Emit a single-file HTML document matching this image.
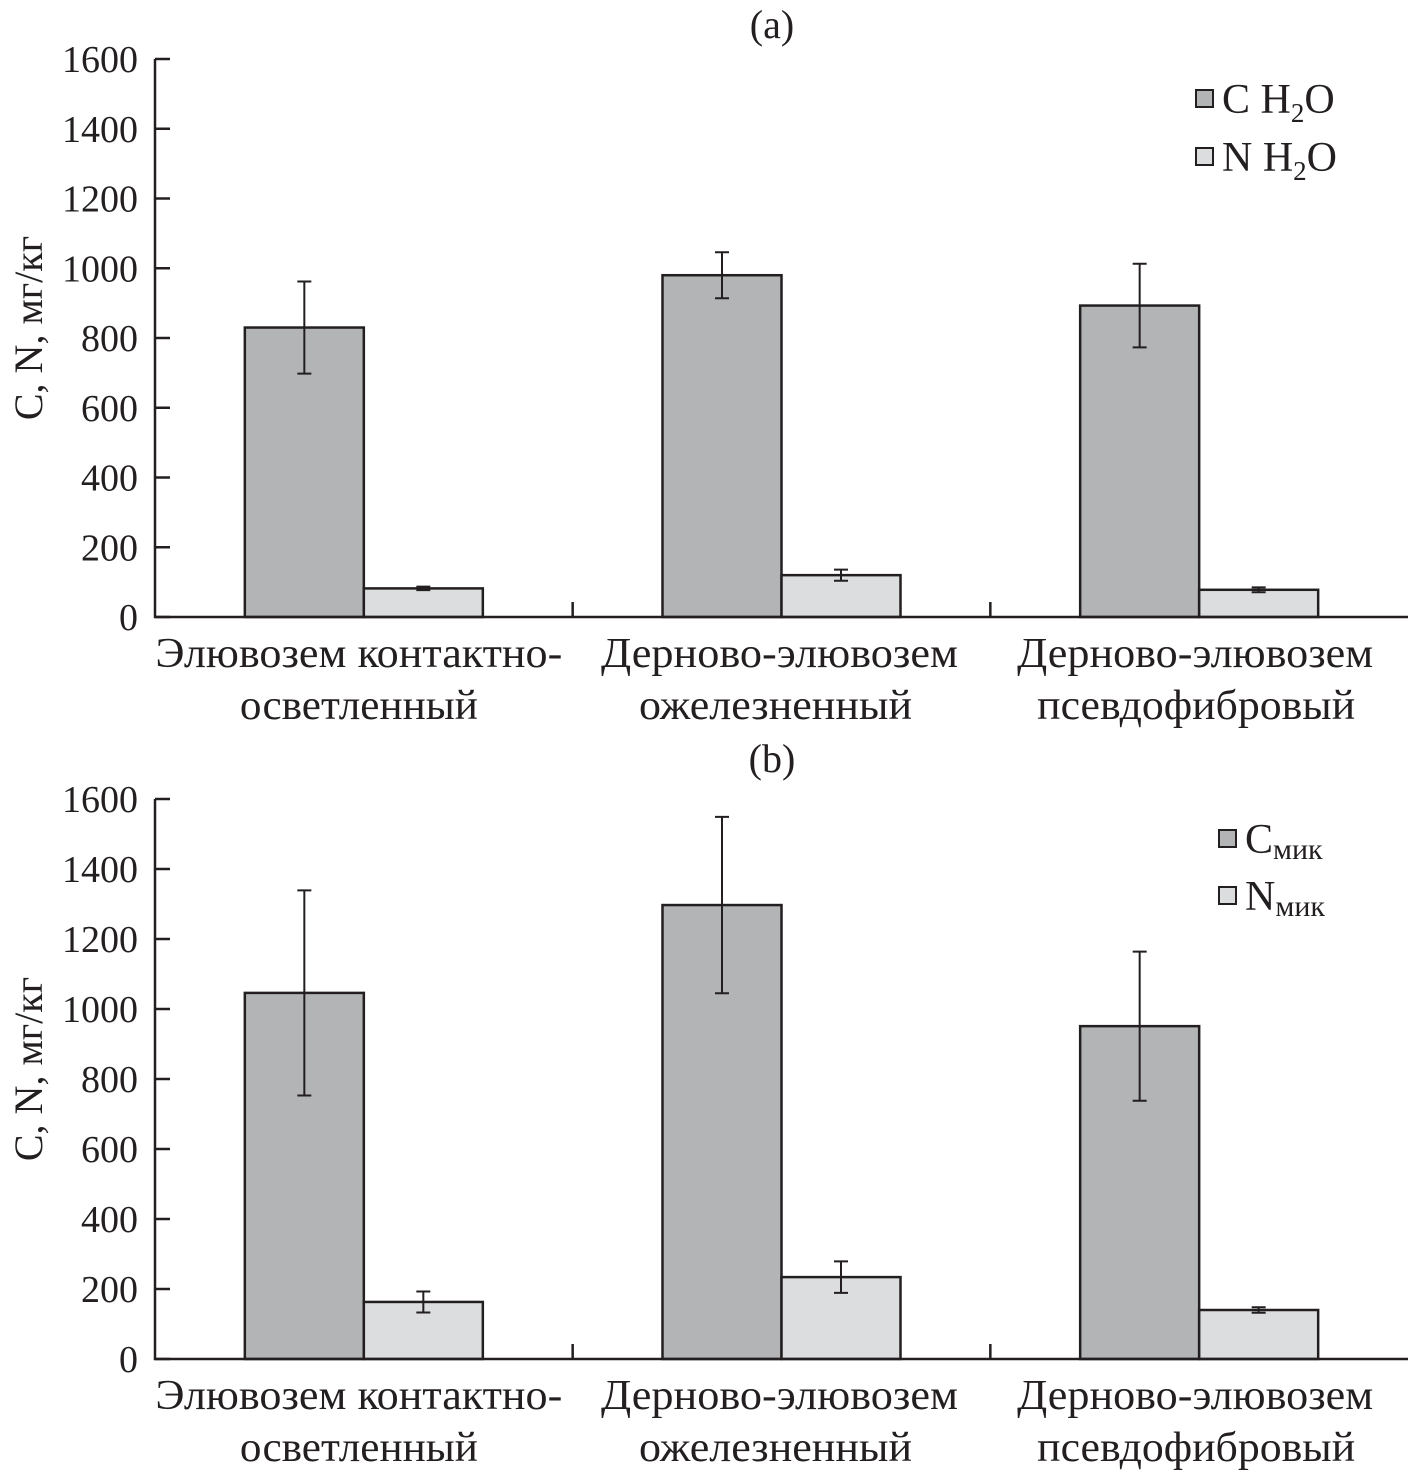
<!DOCTYPE html>
<html><head><meta charset="utf-8"><style>
html,body{margin:0;padding:0;background:#fff}
svg{display:block;font-family:"Liberation Serif",serif;fill:#231f20}
</style></head><body>
<svg id="chart" width="1413" height="1476" viewBox="0 0 1413 1476"></svg>
<script>
const categories = [["Элювозем контактно-","осветленный"],["Дерново-элювозем","ожелезненный"],["Дерново-элювозем","псевдофибровый"]];
const yTicks = [0,200,400,600,800,1000,1200,1400,1600];
const aC = [830, 980, 893];
const aCerr = [132, 66, 120];
const aN = [82, 120, 78];
const aNerr = [5, 16, 7];
const bC = [1046, 1297, 951];
const bCerr = [293, 252, 213];
const bN = [163, 234, 140];
const bNerr = [30, 45, 8];

const NS="http://www.w3.org/2000/svg";
const svg=document.getElementById('chart');
function mk(tag,attrs,parent){const e=document.createElementNS(NS,tag);for(const k in attrs)e.setAttribute(k,attrs[k]);(parent||svg).appendChild(e);return e;}
const labelW=[[407,238],[357,273],[356,318]];
const labelDx=[[-5,-5],[-2,-6],[-4,-3]];

function panel(cfg){
  const g=mk('g',{});
  
  
  const x0=155, x1=1408, y0=cfg.y0, y1=cfg.y1600;
  const yS=v=>y0-(v/1600)*(y0-y1);
  const catW=(x1-x0)/3;
  const xC=i=>x0+catW*(i+0.5);
  const bw=119;
  const t=mk('text',{x:772,y:cfg.titleY,'font-size':40,'text-anchor':'middle'},g);t.textContent=cfg.title;
  
  
  const yt=mk('text',{x:0,y:0,'font-size':40,'text-anchor':'middle',transform:`translate(42,${(y0+y1)/2-10}) rotate(-90)`},g);
  yt.textContent="C, N, мг/кг";
  
  
  yTicks.forEach(v=>{
    const y=yS(v);
    const l=mk('line',{x1:x0,x2:x0+15,y1:y,y2:y,stroke:'#231f20','stroke-width':2.5},g);
    
    
    const tx=mk('text',{x:138,y:y+13,'font-size':38,'text-anchor':'end'},g);tx.textContent=v;
    
    
  });
  const series=[[cfg.C,cfg.Cerr,'#b3b4b6',-bw],[cfg.N,cfg.Nerr,'#dcdddf',0]];
  series.forEach(([vals,errs,col,off],si)=>{
    vals.forEach((v,i)=>{
      const bx=xC(i)+off;
      const r=mk('rect',{x:bx,y:yS(v),width:bw,height:y0-yS(v),fill:col,stroke:'#231f20','stroke-width':2.5},g);
      
      
      const cx=bx+bw/2, e=errs[i];
      const eb=mk('path',{d:`M${cx} ${yS(v+e)}V${yS(v-e)}M${cx-7} ${yS(v+e)}H${cx+7}M${cx-7} ${yS(v-e)}H${cx+7}`,stroke:'#231f20','stroke-width':2,fill:'none'},g);
      
      
    });
  });
  const ax=mk('path',{d:`M${x0} ${y1}V${y0}H${x1}`,stroke:'#231f20','stroke-width':2.5,fill:'none'},g);
  
  
  [1,2].forEach(k=>{
    const l=mk('line',{x1:x0+catW*k,x2:x0+catW*k,y1:y0,y2:y0-15,stroke:'#231f20','stroke-width':2.5},g);
    
    
  });
  categories.forEach((c,i)=>{
    c.forEach((line,j)=>{
      const w=labelW[i][j];
      const tx=mk('text',{x:xC(i)+labelDx[i][j]-w/2,y:y0+50+j*52,'font-size':42,textLength:w,lengthAdjust:'spacingAndGlyphs'},g);tx.textContent=line;
      
      
    });
  });
  cfg.legend.forEach((lg,i)=>{
    const ly=cfg.legY+i*cfg.legGap;
    const sq=mk('rect',{x:cfg.legX,y:ly-9,width:17,height:17,fill:i?'#dcdddf':'#b3b4b6',stroke:'#231f20','stroke-width':2},g);
    
    
    const tx=mk('text',{x:cfg.legX+26,y:ly+14,'font-size':42},g);
    
    
    tx.innerHTML=lg;
  });
}
panel({name:'panel-a',title:'(a)',titleY:38,y0:617,y1600:59,C:aC,Cerr:aCerr,N:aN,Nerr:aNerr,
  legX:1196,legY:99,legGap:58,
  legend:['C H<tspan font-size="27" dy="9">2</tspan><tspan dy="-9">O</tspan>','N H<tspan font-size="27" dy="9">2</tspan><tspan dy="-9">O</tspan>']});
panel({name:'panel-b',title:'(b)',titleY:772,y0:1359,y1600:799,C:bC,Cerr:bCerr,N:bN,Nerr:bNerr,
  legX:1219,legY:839,legGap:57,
  legend:['C<tspan font-size="30" dy="6">мик</tspan>','N<tspan font-size="30" dy="6">мик</tspan>']});
</script>
</body></html>
